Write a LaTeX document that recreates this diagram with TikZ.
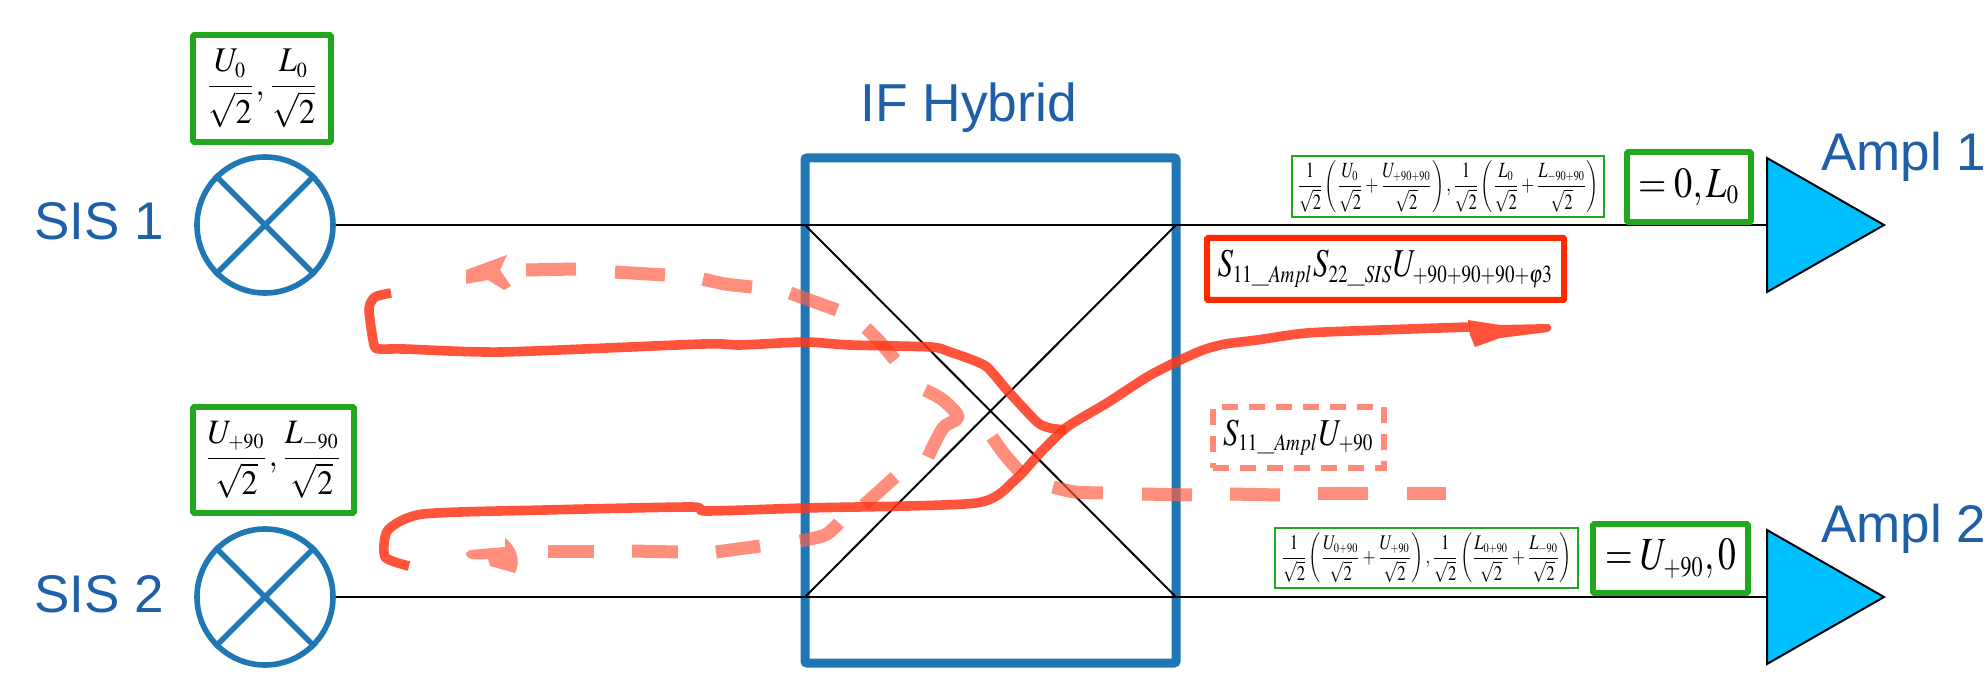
\documentclass[tikz,border=0pt]{standalone}
\usepackage{graphicx}
\usepackage{amsmath}
\usepackage{mathptmx}
\usepackage[no-math]{fontspec}
\setsansfont{Liberation Sans}
\DeclareMathSizes{10}{10}{6.2}{5}
\definecolor{hybblue}{RGB}{31,119,180}
\definecolor{labblue}{RGB}{31,95,168}
\definecolor{boxgreen}{RGB}{33,168,30}
\definecolor{boxred}{RGB}{255,42,0}
\definecolor{ampfill}{RGB}{0,191,255}
\definecolor{solidred}{RGB}{255,55,25}
\definecolor{dashred}{RGB}{255,95,70}
\definecolor{dashbox}{RGB}{255,138,120}
\tikzset{
  lab/.style={text=labblue,font=\sffamily\fontsize{26.5}{30}\selectfont,inner sep=0pt,anchor=base west},
  mixer/.style={circle,draw=hybblue,line width=2.8pt,minimum size=68pt,inner sep=0pt},
  mixarm/.style={draw=hybblue,line width=2.8pt},
  wire/.style={draw=black,line width=1pt},
  greenbig/.style={draw=boxgreen,line width=2.8pt,fill=white,inner sep=0pt,rounded corners=0.5pt},
  greensmall/.style={draw=boxgreen,line width=1pt,fill=white,inner sep=0pt},
  redbox/.style={draw=boxred,line width=3pt,fill=white,inner sep=0pt,rounded corners=0.5pt},
  dashedbox/.style={draw=dashbox,line width=3pt,fill=white,inner sep=0pt,dash pattern=on 8pt off 5.5pt},
  amp/.style={draw=black,line width=1pt,fill=ampfill,line join=miter},
  solidstroke/.style={draw=solidred,opacity=.85,line width=4.8pt,line join=round,line cap=butt},
  dashstroke/.style={draw=dashred,opacity=.7,line width=6.5pt,line join=round,line cap=butt},
  headsolid/.style={fill=solidred,opacity=.85},
  headdash/.style={fill=dashred,opacity=.7},
}
\newcommand{\dashseg}[1]{\draw[dashstroke] plot[smooth,tension=.5] coordinates {#1};}
\newcommand{\fitf}[3]{\raisebox{\dimexpr.5\depth-.5\height\relax}[0pt][0pt]{\resizebox*{#1}{#2}{$#3$}}}
\begin{document}
\begin{tikzpicture}[x=0.5pt,y=-0.5pt]
\useasboundingbox (0,0) rectangle (1984,673);
\fill[white] (0,0) rectangle (1984,673);

% hybrid
\node[draw=hybblue,line width=4.5pt,minimum width=185.5pt,minimum height=252.5pt,inner sep=0pt,rounded corners=1pt] (hyb) at (990.5,410.5) {};
\coordinate (hnw) at (805,225);
\coordinate (hne) at (1176,225);
\coordinate (hsw) at (805,597);
\coordinate (hse) at (1176,597);

% mixers
\node[mixer] (m1) at (265,225) {};
\node[mixer] (m2) at (265,597) {};
\foreach \m in {m1,m2}{
  \draw[mixarm] (\m.north west) -- (\m.south east);
  \draw[mixarm] (\m.north east) -- (\m.south west);
}

% amplifiers
\coordinate (a1w) at (1767,225);
\coordinate (a2w) at (1767,597);
\draw[wire] (m1.east) -- (hnw) -- (hne) -- (a1w);
\draw[wire] (m2.east) -- (hsw) -- (hse) -- (a2w);
\draw[wire] (hnw) -- (hse);
\draw[wire] (hsw) -- (hne);
\path[amp] (1767,158) -- (1884,225) -- (1767,292) -- cycle;
\path[amp] (1767,530) -- (1884,597) -- (1767,664) -- cycle;

% labels
\node[lab] (sis1) at (34,240) {SIS 1};
\node[lab] (sis2) at (34,612) {SIS 2};
\node[lab,font=\sffamily\fontsize{26.7}{30}\selectfont] (title) at (860,122) {IF Hybrid};
\node[lab] (amp1) at (1821,171) {Ampl 1};
\node[lab] (amp2) at (1821,542) {Ampl 2};

% formula boxes
\node[greenbig,minimum width=69pt,minimum height=53.5pt,text height=0pt,text depth=0pt] (b1) at (262,88.5)
  {\fitf{57pt}{39pt}{\dfrac{U_0}{\sqrt{2}},\dfrac{L_0}{\sqrt{2}}}};
\node[greenbig,minimum width=80.5pt,minimum height=53pt,text height=0pt,text depth=0pt] (b2) at (273.5,460)
  {\fitf{69.5pt}{38.5pt}{\dfrac{U_{+90}}{\sqrt{2}},\dfrac{L_{-90}}{\sqrt{2}}}};
\node[greensmall,minimum width=156pt,minimum height=30.5pt,text height=0pt,text depth=0pt] (g1) at (1448,186.5)
  {\fitf{151pt}{26pt}{\dfrac{1}{\sqrt{2}}\left(\dfrac{U_0}{\sqrt{2}}+\dfrac{U_{+90+90}}{\sqrt{2}}\right),\dfrac{1}{\sqrt{2}}\left(\dfrac{L_0}{\sqrt{2}}+\dfrac{L_{-90+90}}{\sqrt{2}}\right)}};
\node[greensmall,minimum width=151.5pt,minimum height=30pt,text height=0pt,text depth=0pt] (g2) at (1426.5,558)
  {\fitf{145.5pt}{25pt}{\dfrac{1}{\sqrt{2}}\left(\dfrac{U_{0+90}}{\sqrt{2}}+\dfrac{U_{+90}}{\sqrt{2}}\right),\dfrac{1}{\sqrt{2}}\left(\dfrac{L_{0+90}}{\sqrt{2}}+\dfrac{L_{-90}}{\sqrt{2}}\right)}};
\node[greenbig,minimum width=62pt,minimum height=35pt,text height=0pt,text depth=0pt] (r1) at (1689,187)
  {\fitf{51pt}{18.5pt}{=0,L_0}};
\node[greenbig,minimum width=77.5pt,minimum height=34.5pt,text height=0pt,text depth=0pt] (r2) at (1670.5,558.5)
  {\fitf{65.5pt}{20pt}{=U_{+90},0}};
\node[redbox,minimum width=178.5pt,minimum height=31pt,text height=0pt,text depth=0pt] (rb) at (1385.5,269)
  {\fitf{168pt}{19pt}{S_{11\_Ampl}S_{22\_SIS}U_{+90+90+90+\varphi 3}}};
\node[dashedbox,minimum width=85.5pt,minimum height=30.5pt,text height=0pt,text depth=0pt] (db) at (1298.5,437.5)
  {\fitf{75.5pt}{18pt}{S_{11\_Ampl}U_{+90}}};

% dashed return path
\dashseg{(1446,493) (1407,493)}
\dashseg{(1368,493) (1318,493)}
\dashseg{(1280,495) (1230,494)}
\dashseg{(1192,495) (1142,494)}
\dashseg{(1103,493) (1075,492) (1053,487)}
\dashseg{(1020,472) (1005,455) (992,437)}
\dashseg{(925,390) (943,400) (958,417) (943,428) (928,457)}
\dashseg{(895,477) (864,505)}
\dashseg{(839,523) (825,535) (800,541)}
\dashseg{(760,546) (716,552)}
\dashseg{(678,552) (632,551)}
\dashseg{(594,551) (548,551)}
\dashseg{(895,360) (880,342) (866,328)}
\dashseg{(837,310) (790,293)}
\dashseg{(752,287) (725,284) (703,279)}
\dashseg{(665,275) (615,272)}
\dashseg{(576,269) (526,270)}
\path[headdash] (466,270) -- (507,255) -- (500,270) -- (511,286) -- (504,290) -- (488,280) -- (466,284) -- cycle;
\path[headdash] (466,553) .. controls (466,560) and (475,560) .. (488,559) -- (490,566) -- (515,573) .. controls (522,560) and (515,545) .. (505,538) -- (505,547) -- (470,550) -- cycle;

% solid paths
\draw[solidstroke] plot[smooth,tension=.4] coordinates {
  (391,293) (375,297) (369,309) (374,345) (380,349) (404,349) (502,352)
  (703,344) (740,345) (805,342) (850,345) (931,347) (950,352) (970,359) (987,367) (1007,390) (1037,422) (1050,428) (1066,430)};
\draw[solidstroke] plot[smooth,tension=.4] coordinates {
  (409,566) (385,557) (388,530) (423,514) (545,510) (691,507) (706,511)
  (805,508) (976,503) (1015,480) (1040,453) (1067,427) (1107,403) (1147,377)
  (1176,362) (1203,350) (1225,344) (1257,340) (1307,333) (1380,330) (1470,327)};
\path[headsolid] (1468,320) -- (1500,325) -- (1549,324) .. controls (1552,327) and (1552,330) .. (1548,332) -- (1500,338) -- (1475,347) -- (1470,335) -- cycle;
\end{tikzpicture}
\end{document}
